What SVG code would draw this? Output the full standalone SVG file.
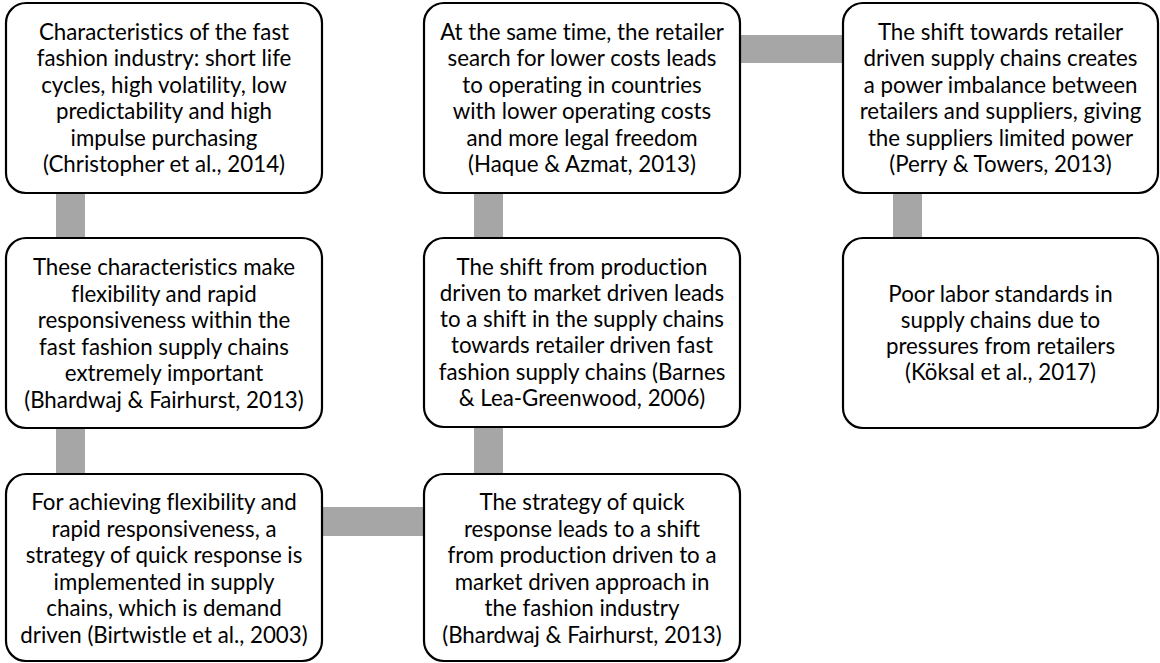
<svg xmlns="http://www.w3.org/2000/svg" width="1160" height="663" viewBox="0 0 1160 663">
<style>
.box{fill:#fff;stroke:#000;stroke-width:2.2}
.con{fill:#a6a6a6;stroke:none}
text{font-family:Lato,"Liberation Sans",sans-serif;font-size:22.3px;fill:#000;text-anchor:middle;font-variant-ligatures:none}
</style>
<rect width="1160" height="663" fill="#fff"/>
<g id="connectors">
<rect class="con" x="56" y="190" width="29" height="52"/>
<rect class="con" x="56" y="425" width="29" height="52"/>
<rect class="con" x="319" y="507" width="108" height="29"/>
<rect class="con" x="474" y="424" width="29" height="53"/>
<rect class="con" x="474" y="190" width="29" height="52"/>
<rect class="con" x="737" y="35" width="109" height="28"/>
<rect class="con" x="893" y="190" width="29" height="52"/>
</g>
<g id="n1">
<rect class="box" x="6" y="3" width="316" height="190" rx="20"/>
<text y="39.5"><tspan x="164">Characteristics of the fast</tspan><tspan x="164" dy="26.5">fashion industry: short life</tspan><tspan x="164" dy="26.5">cycles, high volatility, low</tspan><tspan x="164" dy="26.5">predictability and high</tspan><tspan x="164" dy="26.5">impulse purchasing</tspan><tspan x="164" dy="26.5">(Christopher et al., 2014)</tspan></text>
</g>
<g id="n2">
<rect class="box" x="6" y="238" width="316" height="190" rx="20"/>
<text y="275"><tspan x="164">These characteristics make</tspan><tspan x="164" dy="26.5">flexibility and rapid</tspan><tspan x="164" dy="26.5">responsiveness within the</tspan><tspan x="164" dy="26.5">fast fashion supply chains</tspan><tspan x="164" dy="26.5">extremely important</tspan><tspan x="164" dy="26.5">(Bhardwaj &amp; Fairhurst, 2013)</tspan></text>
</g>
<g id="n3">
<rect class="box" x="6" y="474" width="316" height="187" rx="20"/>
<text y="510"><tspan x="164">For achieving flexibility and</tspan><tspan x="164" dy="26.6">rapid responsiveness, a</tspan><tspan x="164" dy="26.6">strategy of quick response is</tspan><tspan x="164" dy="26.6">implemented in supply</tspan><tspan x="164" dy="26.6">chains, which is demand</tspan><tspan x="164" dy="26.6">driven (Birtwistle et al., 2003)</tspan></text>
</g>
<g id="n4">
<rect class="box" x="424" y="474" width="316" height="187" rx="20"/>
<text y="510"><tspan x="582">The strategy of quick</tspan><tspan x="582" dy="26.6">response leads to a shift</tspan><tspan x="582" dy="26.6">from production driven to a</tspan><tspan x="582" dy="26.6">market driven approach in</tspan><tspan x="582" dy="26.6">the fashion industry</tspan><tspan x="582" dy="26.6">(Bhardwaj &amp; Fairhurst, 2013)</tspan></text>
</g>
<g id="n5">
<rect class="box" x="424" y="238" width="316" height="189" rx="20"/>
<text y="274.5"><tspan x="582">The shift from production</tspan><tspan x="582" dy="26.3">driven to market driven leads</tspan><tspan x="582" dy="26.3">to a shift in the supply chains</tspan><tspan x="582" dy="26.3">towards retailer driven fast</tspan><tspan x="582" dy="26.3">fashion supply chains (Barnes</tspan><tspan x="582" dy="26.3">&amp; Lea-Greenwood, 2006)</tspan></text>
</g>
<g id="n6">
<rect class="box" x="424" y="3" width="316" height="190" rx="20"/>
<text y="39.5"><tspan x="582">At the same time, the retailer</tspan><tspan x="582" dy="26.5">search for lower costs leads</tspan><tspan x="582" dy="26.5">to operating in countries</tspan><tspan x="582" dy="26.5">with lower operating costs</tspan><tspan x="582" dy="26.5">and more legal freedom</tspan><tspan x="582" dy="26.5">(Haque &amp; Azmat, 2013)</tspan></text>
</g>
<g id="n7">
<rect class="box" x="843" y="3" width="315" height="190" rx="20"/>
<text y="39.5"><tspan x="1000.5">The shift towards retailer</tspan><tspan x="1000.5" dy="26.5">driven supply chains creates</tspan><tspan x="1000.5" dy="26.5">a power imbalance between</tspan><tspan x="1000.5" dy="26.5">retailers and suppliers, giving</tspan><tspan x="1000.5" dy="26.5">the suppliers limited power</tspan><tspan x="1000.5" dy="26.5">(Perry &amp; Towers, 2013)</tspan></text>
</g>
<g id="n8">
<rect class="box" x="843" y="238" width="315" height="190" rx="20"/>
<text y="302"><tspan x="1000.5">Poor labor standards in</tspan><tspan x="1000.5" dy="26">supply chains due to</tspan><tspan x="1000.5" dy="26">pressures from retailers</tspan><tspan x="1000.5" dy="26">(Köksal et al., 2017)</tspan></text>
</g>
</svg>
